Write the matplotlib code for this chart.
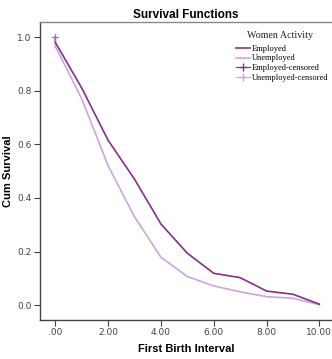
import matplotlib
matplotlib.use("Agg")
import matplotlib.pyplot as plt
from matplotlib.lines import Line2D

times = [0, 0, 1, 2, 3, 4, 5, 6, 7, 8, 9, 10]
employed = [1.0, 0.98, 0.81, 0.615, 0.47, 0.303, 0.194, 0.119, 0.103, 0.053, 0.041, 0.004]
unemployed = [1.0, 0.965, 0.77, 0.52, 0.33, 0.179, 0.107, 0.072, 0.05, 0.032, 0.026, 0.002]
censor_x = [0]
censor_employed = [1.0]
censor_unemployed = [1.0]
xticks = [0, 2, 4, 6, 8, 10]
xticklabels = [".00", "2.00", "4.00", "6.00", "8.00", "10.00"]
yticks = [0.0, 0.2, 0.4, 0.6, 0.8, 1.0]
yticklabels = ["0.0", "0.2", "0.4", "0.6", "0.8", "1.0"]

c_emp = "#862f88"
c_unemp = "#c9a6dc"

fig = plt.figure(figsize=(3.32, 3.59), dpi=100)
ax = fig.add_axes([40/332, 1-320/359, 1-40/332, (320-22)/359])
ax.plot(times, unemployed, color=c_unemp, lw=1.2)
ax.plot(times, employed, color=c_emp, lw=1.2)
ax.plot(censor_x, censor_unemployed, marker="+", color=c_unemp, ms=6, mew=0.9, ls="none")
ax.plot(censor_x, censor_employed, marker="+", color=c_emp, ms=5, mew=0.6, ls="none", alpha=0.6)

ax.set_xlim(-0.58, 10.48)
ax.set_ylim(-0.055, 1.056)
ax.set_xticks(xticks)
ax.set_xticklabels(xticklabels)
ax.set_yticks(yticks)
ax.set_yticklabels(yticklabels)
ax.tick_params(direction="out", length=4, width=0.8, labelsize=6.5, colors="#444444", pad=2)
for s in ["left", "bottom"]:
    ax.spines[s].set_color("#444444")
    ax.spines[s].set_linewidth(1.0)
ax.spines["top"].set_color("#888888")
ax.spines["top"].set_linewidth(1.0)
ax.spines["right"].set_visible(False)

ax.set_title("Survival Functions", fontsize=8.5, fontweight="bold", family="Liberation Sans", pad=3)
ax.set_xlabel("First Birth Interval", fontsize=8, fontweight="bold", family="Liberation Sans", labelpad=5)
ax.set_ylabel("Cum Survival", fontsize=8, fontweight="bold", family="Liberation Sans")
ax.yaxis.set_label_coords(13/332, 0.5 * (1 - 320/359 + 1 - 22/359), transform=fig.transFigure)

fig.text(280/332, 1-35/359, "Women Activity", ha="center", va="center",
         family="Liberation Serif", fontsize=7.2, color="#222222")

handles = [
    Line2D([], [], color=c_emp, lw=1.2),
    Line2D([], [], color=c_unemp, lw=1.2),
    Line2D([], [], color=c_emp, lw=0.8, marker="+", ms=6),
    Line2D([], [], color=c_unemp, lw=0.8, marker="+", ms=6),
]
labels = ["Employed", "Unemployed", "Employed-censored", "Unemployed-censored"]
leg = ax.legend(handles, labels, loc="upper left",
                bbox_to_anchor=(236/332, 1-45/359), bbox_transform=fig.transFigure,
                frameon=False, prop={"family": "Liberation Serif", "size": 6.0},
                handlelength=1.7, handletextpad=0.15, labelspacing=0.18, borderpad=0,
                borderaxespad=0)

fig.savefig("out.png", dpi=100)
